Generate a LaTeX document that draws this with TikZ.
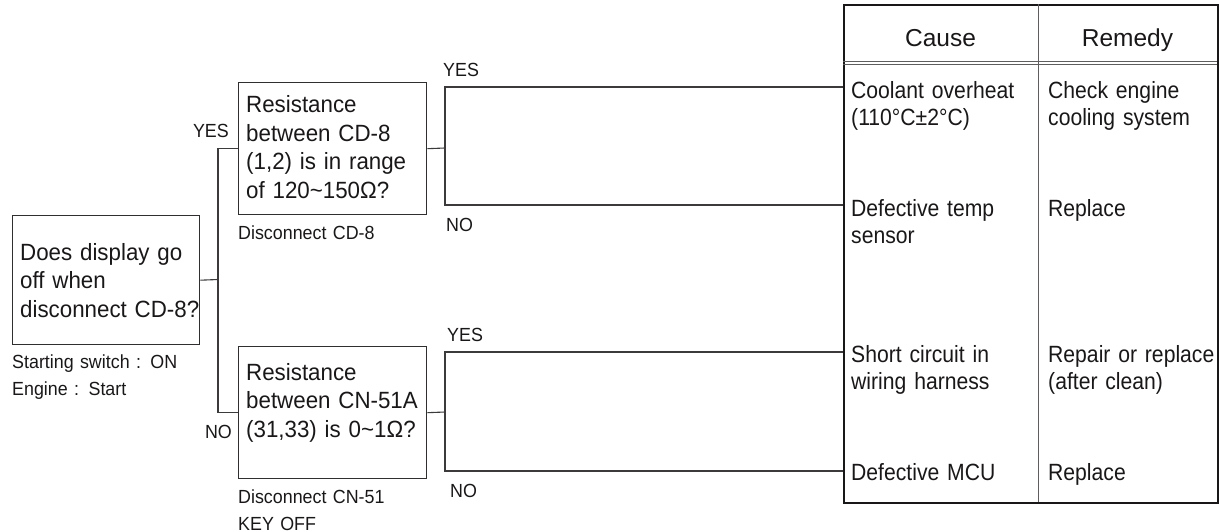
\documentclass[tikz,border=0pt]{standalone}
\usepackage{fontspec}
\setmainfont{Liberation Sans}
\newfontfamily\boxf[FakeStretch=0.95]{Liberation Sans}
\newfontfamily\cellf[FakeStretch=0.9]{Liberation Sans}
\newfontfamily\smallf[FakeStretch=0.94]{Liberation Sans}
\definecolor{ink}{HTML}{1A1718}
\begin{document}
\begin{tikzpicture}[x=1pt,y=-1pt,
  box/.style={draw=ink!90, line width=1.4pt, inner sep=0pt, anchor=north west},
  conn/.style={draw=ink!85, line width=1.1pt},
  boxtext/.style={font=\boxf\fontsize{23.5}{28.5}\selectfont, text=ink, inner sep=0pt, anchor=base west, text width=185pt, align=left},
  celltext/.style={font=\cellf\fontsize{23.5}{27}\selectfont, text=ink, inner sep=0pt, anchor=base west, text width=170pt, align=left},
  small/.style={font=\smallf\fontsize{19}{27}\selectfont, text=ink, inner sep=0pt},
  smallblock/.style={small, anchor=base west, text width=200pt, align=left},
  head/.style={font=\fontsize{24.5}{28}\selectfont, text=ink, inner sep=0pt, anchor=base}]
\useasboundingbox (0,0) rectangle (1219,532);

% question boxes
\node[box, minimum width=187pt, minimum height=129pt] (q1) at (12,215) {};
\node[box, minimum width=188pt, minimum height=132pt] (q2) at (238,82) {};
\node[box, minimum width=188pt, minimum height=132pt] (q3) at (238,346) {};

\node[boxtext] (q1t) at (20,260) {Does display go\\off when\\disconnect CD-8?};
\node[boxtext] (q2t) at (246,113) {Resistance\\between CD-8\\(1,2) is in range\\of 120\textasciitilde150Ω?};
\node[boxtext] (q3t) at (246,380) {Resistance\\between CN-51A\\(31,33) is 0\textasciitilde1Ω?};

\node[smallblock] (n1) at (12,368) {Starting switch : ON\\Engine : Start};
\node[smallblock] (n2) at (238,239) {Disconnect CD-8};
\node[smallblock] (n3) at (238,503) {Disconnect CN-51\\KEY OFF};

% branch labels
\node[small, anchor=base east] (y1) at (229,138) {YES};
\node[small, anchor=base east] (no1) at (232,438) {NO};
\node[small, anchor=base west] (y2) at (443,77) {YES};
\node[small, anchor=base west] (no2) at (446,232) {NO};
\node[small, anchor=base west] (y3) at (447,341) {YES};
\node[small, anchor=base west] (no3) at (450,497) {NO};

% table
\node[draw=ink, line width=2pt, inner sep=0pt, anchor=north west, minimum width=374pt, minimum height=498pt] (tab) at (843,4) {};
\draw[ink!70, line width=0.9pt] (1038,4) -- (1038,502);
\draw[ink!70, line width=0.8pt] (843,61.7) -- (1217,61.7);
\draw[ink!70, line width=0.8pt] (843,64.6) -- (1217,64.6);

\node[head] (hc) at (940.5,46.5) {Cause};
\node[head] (hr) at (1127.5,46.5) {Remedy};

\node[celltext] (c1t) at (851,99) {Coolant overheat\\(110°C±2°C)};
\node[celltext] (c2t) at (851,216) {Defective temp\\sensor};
\node[celltext] (c3t) at (851,362) {Short circuit in\\wiring harness};
\node[celltext] (c4t) at (851,480) {Defective MCU};
\node[celltext] (r1t) at (1048,99) {Check engine\\cooling system};
\node[celltext] (r2t) at (1048,216) {Replace};
\node[celltext] (r3t) at (1048,362) {Repair or replace\\(after clean)};
\node[celltext] (r4t) at (1048,480) {Replace};

% connector points
\coordinate (j1) at (218,279.5);
\coordinate (j2) at (445,148);
\coordinate (j3) at (445,412);
\coordinate (e1) at (843,87);
\coordinate (e2) at (843,205);
\coordinate (e3) at (843,352);
\coordinate (e4) at (843,471);

\draw[conn] (q1.east) -- (j1);
\draw[conn] (q2.west) -| (j1) |- (q3.west);
\draw[conn] (q2.east) -- (j2);
\draw[conn] (e1) -| (j2) |- (e2);
\draw[conn] (q3.east) -- (j3);
\draw[conn] (e3) -| (j3) |- (e4);
\end{tikzpicture}
\end{document}
